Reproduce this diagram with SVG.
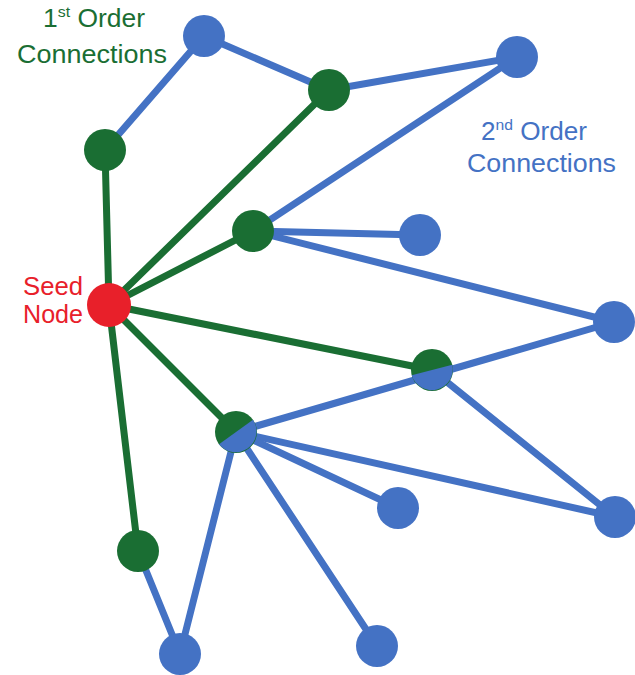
<svg xmlns="http://www.w3.org/2000/svg" width="635" height="675" viewBox="0 0 635 675">
<style>
.g{stroke:#1a6e33;stroke-width:7;fill:none;stroke-linecap:round}
.b{stroke:#4472c4;stroke-width:7;fill:none;stroke-linecap:round}
.ng{fill:#1a6e33}
.nb{fill:#4472c4}
.nr{fill:#e8202a}
text{font-family:"Liberation Sans",Arial,sans-serif;font-size:25px}
</style>
<rect width="635" height="675" fill="#ffffff"/>
<g id="connectors">
<line class="g" x1="109" y1="305" x2="105" y2="150"/>
<line class="g" x1="109" y1="305" x2="329" y2="90"/>
<line class="g" x1="109" y1="305" x2="253" y2="231"/>
<line class="g" x1="109" y1="305" x2="432" y2="370"/>
<line class="g" x1="109" y1="305" x2="236" y2="432"/>
<line class="g" x1="109" y1="305" x2="138" y2="551"/>
<line class="b" x1="105" y1="150" x2="204" y2="36"/>
<line class="b" x1="204" y1="36" x2="329" y2="90"/>
<line class="b" x1="329" y1="90" x2="517" y2="57"/>
<line class="b" x1="517" y1="57" x2="253" y2="231"/>
<line class="b" x1="253" y1="231" x2="420" y2="235"/>
<line class="b" x1="253" y1="231" x2="614" y2="322"/>
<line class="b" x1="236" y1="432" x2="614" y2="322"/>
<line class="b" x1="432" y1="370" x2="615" y2="517"/>
<line class="b" x1="236" y1="432" x2="615" y2="517"/>
<line class="b" x1="236" y1="432" x2="398" y2="508"/>
<line class="b" x1="236" y1="432" x2="377" y2="646"/>
<line class="b" x1="236" y1="432" x2="180" y2="654"/>
<line class="b" x1="138" y1="551" x2="180" y2="654"/>
</g>
<g id="seed"><circle class="nr" cx="109" cy="305" r="22"/></g>
<g id="g1"><circle class="ng" cx="105" cy="150" r="21"/></g>
<g id="g2"><circle class="ng" cx="329" cy="90" r="21"/></g>
<g id="g3"><circle class="ng" cx="253" cy="231" r="21"/></g>
<g id="g4"><circle class="ng" cx="432" cy="370" r="21"/><path class="nb" d="M411.7 375.3 A21 21 0 0 0 452.3 364.7 Z"/></g>
<g id="g5"><circle class="ng" cx="236" cy="432" r="21"/><path class="nb" d="M219 444.3 A21 21 0 0 0 253 419.7 Z"/></g>
<g id="g6"><circle class="ng" cx="138" cy="551" r="21"/></g>
<g id="b1"><circle class="nb" cx="204" cy="36" r="21"/></g>
<g id="b2"><circle class="nb" cx="517" cy="57" r="21"/></g>
<g id="b3"><circle class="nb" cx="420" cy="235" r="21"/></g>
<g id="b4"><circle class="nb" cx="614" cy="322" r="21"/></g>
<g id="b5"><circle class="nb" cx="398" cy="508" r="21"/></g>
<g id="b6"><circle class="nb" cx="615" cy="517" r="21"/></g>
<g id="b7"><circle class="nb" cx="180" cy="654" r="21"/></g>
<g id="b8"><circle class="nb" cx="377" cy="646" r="21"/></g>
<g id="labels">
<text x="43" y="27" fill="#1a6e33" textLength="102" lengthAdjust="spacingAndGlyphs">1<tspan font-size="15" dy="-10">st</tspan><tspan dy="10"> Order</tspan></text>
<text x="17" y="63" fill="#1a6e33" textLength="150" lengthAdjust="spacingAndGlyphs">Connections</text>
<text x="481" y="140" fill="#4472c4" textLength="106" lengthAdjust="spacingAndGlyphs">2<tspan font-size="15" dy="-10">nd</tspan><tspan dy="10"> Order</tspan></text>
<text x="467" y="172" fill="#4472c4" textLength="149" lengthAdjust="spacingAndGlyphs">Connections</text>
<text x="23" y="295" fill="#e8202a" textLength="60" lengthAdjust="spacingAndGlyphs">Seed</text>
<text x="23" y="323" fill="#e8202a" textLength="60" lengthAdjust="spacingAndGlyphs">Node</text>
</g>
</svg>
